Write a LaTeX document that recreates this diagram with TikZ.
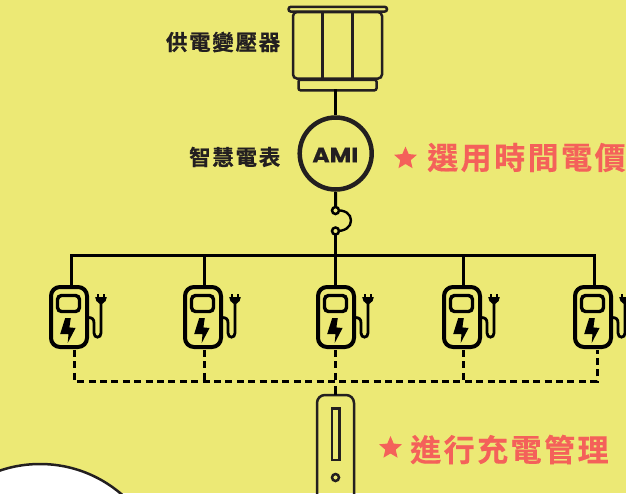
\documentclass[tikz,border=0pt]{standalone}
\usepackage{fontspec}
\usetikzlibrary{shapes.geometric}
\newfontfamily\cjkblack[LetterSpace=8,FakeBold=0.6]{Noto Sans CJK TC Bold}
\newfontfamily\cjkred[LetterSpace=8,FakeBold=0.4]{Noto Sans CJK TC Bold}
\newfontfamily\amifont[FakeBold=0.8]{Poppins Bold}
\definecolor{bgy}{HTML}{ECE975}
\definecolor{ink}{HTML}{231F20}
\definecolor{redt}{HTML}{F4615A}
\tikzset{
  x=1pt,y=-1pt,
  wire/.style={draw=black,line width=3pt},
  dashwire/.style={draw=black,line width=3pt,dash pattern=on 7pt off 4.4pt},
  outline/.style={draw=ink,line width=2.5pt},
  blacklabel/.style={text=ink,inner sep=0pt,font=\cjkblack\fontsize{21.5}{21.5}\selectfont,anchor=east},
  redlabel/.style={text=redt,inner sep=0pt,font=\cjkred\fontsize{31}{31}\selectfont,anchor=west},
  redstar/.style={star,star points=5,star point ratio=2.2,fill=redt,inner sep=0pt,minimum size=24pt},
  dot/.style={circle,draw=black,line width=2.5pt,inner sep=0pt,minimum size=7pt,fill=bgy},
  chargerpic/.pic={
    \draw[black,line width=4pt,rounded corners=9pt] (2,2) rectangle (38,62);
    \draw[black,line width=3.4pt,rounded corners=4pt] (8.5,10.5) rectangle (30.5,26.5);
    \fill[black] (16.2,33) -- (21.8,33) -- (20.4,42.4) -- (26.6,43) -- (18.7,58) -- (19.5,49) -- (11.2,49) -- cycle;
    \draw[black,line width=2.8pt] (39,32.5) .. controls (43,32.5) and (45,34) .. (45,38) -- (45,48)
      .. controls (45,53.5) and (52,53.5) .. (52,48) -- (52,18);
    \fill[black] (46.2,12) -- (57.8,12) -- (56.6,16) -- (52,20) -- (47.4,16) -- cycle;
    \draw[black,line width=2.4pt] (49.2,9) -- (49.2,13) (54.8,9) -- (54.8,13);
  }
}
\begin{document}
\begin{tikzpicture}
\useasboundingbox (0,0) rectangle (626,493);
\fill[bgy] (0,0) rectangle (626,493);
\begin{scope}
\clip (0,0) rectangle (626,493);
\draw[fill=white,draw=ink,line width=2.5pt] (40,589) circle[radius=125];
\end{scope}

% transformer
\draw[outline,rounded corners=2.4pt] (288.5,6.8) rectangle (387,11.6);
\draw[outline,rounded corners=4pt] (293,12) rectangle (382,78.5);
\draw[outline] (322.5,12) -- (322.5,78) (352.5,12) -- (352.5,78);
\node[draw=ink,line width=2.5pt,rounded corners=2pt,minimum width=78pt,minimum height=10.5pt,inner sep=0pt,anchor=north] (base) at (337.5,78.5) {};
\coordinate (xout) at (335.7,89);

% AMI
\node[circle,draw=ink,line width=4.5pt,minimum size=72pt,inner sep=0pt] (ami) at (335.7,153.5) {};
\node[text=ink,inner sep=0pt,xscale=1.12,font=\amifont\fontsize{21}{21}\selectfont] (amit) at (335.3,155) {AMI};
\coordinate (amitop) at (335.7,115);
\coordinate (amibot) at (335.7,192);

% breaker
\coordinate (bus3) at (335.5,255);
\coordinate (d1c) at (335.5,210.5);
\coordinate (d2c) at (335.5,231);
\draw[wire] (xout) -- (amitop);
\draw[wire] (amibot) -- (d1c);
\draw[wire] (d2c) -- (bus3);
\draw[black,line width=2.4pt] (d1c) .. controls (345,209.5) and (351,214) .. (351,220.5)
   .. controls (351,227) and (345,231.5) .. (d2c);
\node[dot] (d1) at (d1c) {};
\node[dot] (d2) at (d2c) {};

% chargers
\pic (c1) at (49,285) {chargerpic};
\pic (c2) at (183,285) {chargerpic};
\pic (c3) at (316,285) {chargerpic};
\pic (c4) at (442,285) {chargerpic};
\pic (c5) at (573,285) {chargerpic};

\coordinate (t1) at (71,255); \coordinate (t1b) at (71,286);
\coordinate (t2) at (204.5,255); \coordinate (t2b) at (204.5,286);
\coordinate (t3b) at (335.5,286);
\coordinate (t4) at (463,255); \coordinate (t4b) at (463,286);
\coordinate (t5) at (594,255); \coordinate (t5b) at (594,286);
\draw[wire] (t1b) -- (t1) -- (t2) -- (bus3) -- (t4) -- (t5) -- (t5b);
\draw[wire] (t2) -- (t2b);
\draw[wire] (bus3) -- (t3b);
\draw[wire] (t4) -- (t4b);

% dashed control bus
\coordinate (b1) at (74,350); \coordinate (bb1) at (74,381);
\coordinate (b2) at (204.5,350); \coordinate (bb2) at (204.5,381);
\coordinate (b3) at (335.5,350); \coordinate (bb3) at (335.5,381);
\coordinate (b4) at (463,350); \coordinate (bb4) at (463,381);
\coordinate (b5) at (597,350); \coordinate (bb5) at (597,381);
\draw[dashwire] (b1) -- (bb1) -- (bb5) -- (b5);
\draw[dashwire] (b2) -- (bb2);
\draw[dashwire] (b3) -- (bb3);
\draw[dashwire] (b4) -- (bb4);

% controller
\begin{scope}
\clip (0,0) rectangle (626,493);
\draw[outline,rounded corners=8pt] (317,395) rectangle (354,510);
\draw[outline] (332,408.5) rectangle (339.5,460);
\draw[outline] (335.5,477.5) circle[radius=3.5];
\end{scope}
\coordinate (ctop) at (335.5,395);
\coordinate (ctap) at (335.5,386);
\draw[wire] (ctap) -- (ctop);

% labels
\node[blacklabel] (l1) at (280.5,42) {供電變壓器};
\node[blacklabel] (l2) at (280.5,157) {智慧電表};
\node[redstar] (s1) at (405.5,158.5) {};
\node[redlabel] (r1) at (427,157.5) {選用時間電價};
\node[redstar] (s2) at (390.5,448) {};
\node[redlabel] (r2) at (410,449.5) {進行充電管理};
\end{tikzpicture}
\end{document}
